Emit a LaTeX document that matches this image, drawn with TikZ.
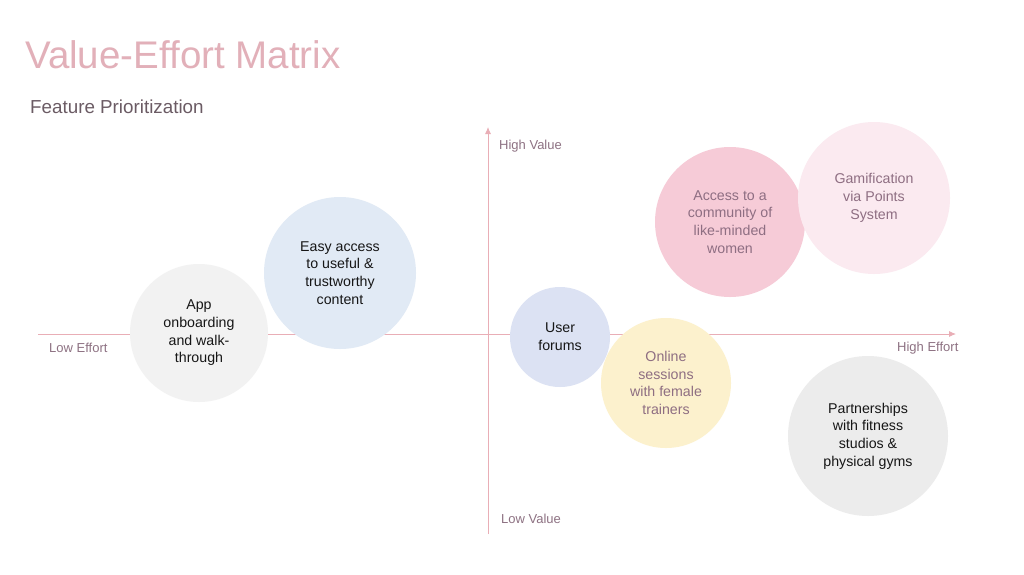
\documentclass[tikz,border=0pt]{standalone}
\usepackage{fontspec}
\setmainfont{Liberation Sans}
\definecolor{axisc}{HTML}{E9AEB6}
\definecolor{titlec}{HTML}{E2B0B9}
\definecolor{subc}{HTML}{6B5B64}
\definecolor{labc}{HTML}{8E7283}
\definecolor{mauve}{HTML}{8E6E82}
\definecolor{inkc}{HTML}{161616}
\definecolor{cgray}{HTML}{F2F2F2}
\definecolor{cgray2}{HTML}{ECECEC}
\definecolor{cblue}{HTML}{E1EAF5}
\definecolor{clav}{HTML}{DCE2F3}
\definecolor{cyel}{HTML}{FCF1CD}
\definecolor{cpink}{HTML}{F6CBD7}
\definecolor{cpale}{HTML}{FBEAF0}
\tikzset{
  bubble/.style={circle, inner sep=0pt, align=center, font=\fontsize{14.2}{17.7}\selectfont},
  axislab/.style={font=\fontsize{13}{15}\selectfont, text=labc, inner sep=0pt, anchor=west},
  axisline/.style={draw=axisc, line width=0.9pt, -{Latex[length=7pt,width=6pt]}},
}
\usetikzlibrary{arrows.meta}
\begin{document}
\begin{tikzpicture}[x=1pt,y=-1pt]
\useasboundingbox (0,0) rectangle (1024,574);
\fill[white] (0,0) rectangle (1024,574);
% title
\node[anchor=base west, inner sep=0pt, text=titlec, font=\fontsize{38.5}{42}\selectfont] (title) at (25,68) {Value-Effort Matrix};
\node[anchor=base west, inner sep=0pt, text=subc, font=\fontsize{18.8}{20}\selectfont] (sub) at (30,113) {Feature Prioritization};
% axes
\coordinate (xl) at (38,334);
\coordinate (xr) at (956,334);
\coordinate (yb) at (488,534);
\coordinate (yt) at (488,127);
\draw[axisline] (xl) -- (xr);
\draw[axisline] (yb) -- (yt);
% axis labels
\node[axislab] (hv) at (499,146) {High Value};
\node[axislab] (lv) at (501,519) {Low Value};
\node[axislab] (le) at (49,348) {Low Effort};
\node[axislab] (he) at (897,348) {High Effort};
% bubbles
\node[bubble, fill=cgray, minimum size=138pt, text=inkc] (app) at (199,333) {App\\onboarding\\and walk-\\through};
\node[bubble, fill=cblue, minimum size=152pt, text=inkc] (easy) at (340,273) {Easy access\\to useful \&\\trustworthy\\content};
\node[bubble, fill=clav, minimum size=100pt, text=inkc] (forum) at (560,337) {User\\forums};
\node[bubble, fill=cyel, minimum size=130pt, text=mauve] (online) at (666,383) {Online\\sessions\\with female\\trainers};
\node[bubble, fill=cpink, minimum size=150pt, text=mauve] (comm) at (730,222) {Access to a\\community of\\like-minded\\women};
\node[bubble, fill=cpale, minimum size=152pt, text=mauve] (gam) at (874,198) {Gamification\\via Points\\System};
\node[bubble, fill=cgray2, minimum size=160pt, text=inkc] (part) at (868,436) {Partnerships\\with fitness\\studios \&\\physical gyms};
\end{tikzpicture}
\end{document}
